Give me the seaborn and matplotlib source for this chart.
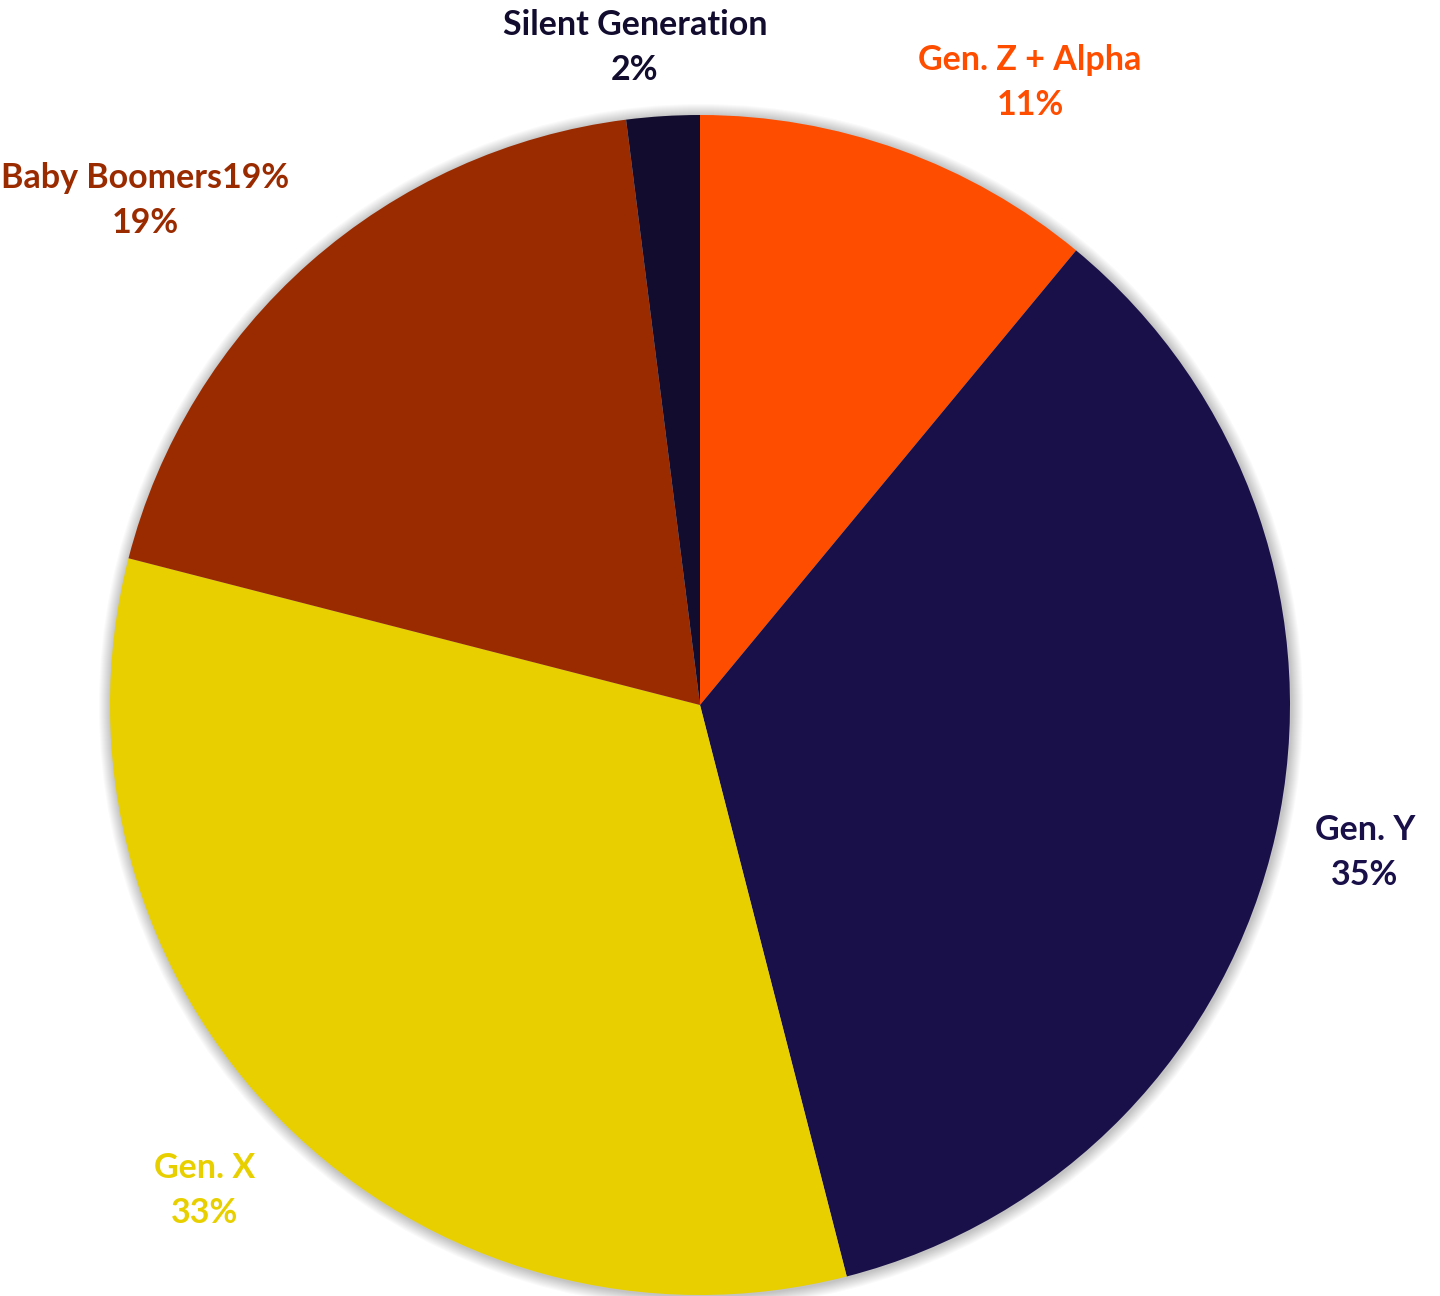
import matplotlib
matplotlib.use("Agg")
import matplotlib.pyplot as plt
import seaborn as sns
from matplotlib.patches import Circle

categories = ["Gen. Z + Alpha", "Gen. Y", "Gen. X", "Baby Boomers19%", "Silent Generation"]
values = [11, 35, 33, 19, 2]
colors = ["#FF4D00", "#1A1049", "#E8D000", "#9A2A00", "#120C2E"]

# label anchor positions (pixels, y measured from top) - layout only
label_pos = [(1030, 60), (1365, 830), (205, 1168), (145, 178), (635, 25)]

sns.set_theme(style="white")
plt.rcParams['font.family'] = ['Lato', 'DejaVu Sans']

W, H = 1440, 1296
fig = plt.figure(figsize=(W / 100, H / 100), dpi=100)
ax = fig.add_axes([0, 0, 1, 1])
palette = sns.color_palette(colors)

cx, cy, R = 700, H - 705, 590

# soft shadow
for k in range(12, 0, -1):
    ax.add_patch(Circle((cx + 1, cy - 1), R + k, color="black", alpha=0.018, lw=0, zorder=0))

ax.pie(values, colors=palette, startangle=90, counterclock=False,
       center=(cx, cy), radius=R, wedgeprops=dict(linewidth=0, zorder=1))

total = sum(values)
for name, v, c, (lx, ly) in zip(categories, values, colors, label_pos):
    ax.text(lx, H - ly, name, color=c, fontsize=24.5, fontweight="bold",
            ha="center", va="center")
    ax.text(lx, H - ly - 45, f"{round(100 * v / total)}%", color=c, fontsize=24.5,
            fontweight="bold", ha="center", va="center")

ax.set_xlim(0, W)
ax.set_ylim(0, H)
ax.set_aspect("equal")
ax.axis("off")
fig.savefig("out.png", dpi=100, facecolor="white")
